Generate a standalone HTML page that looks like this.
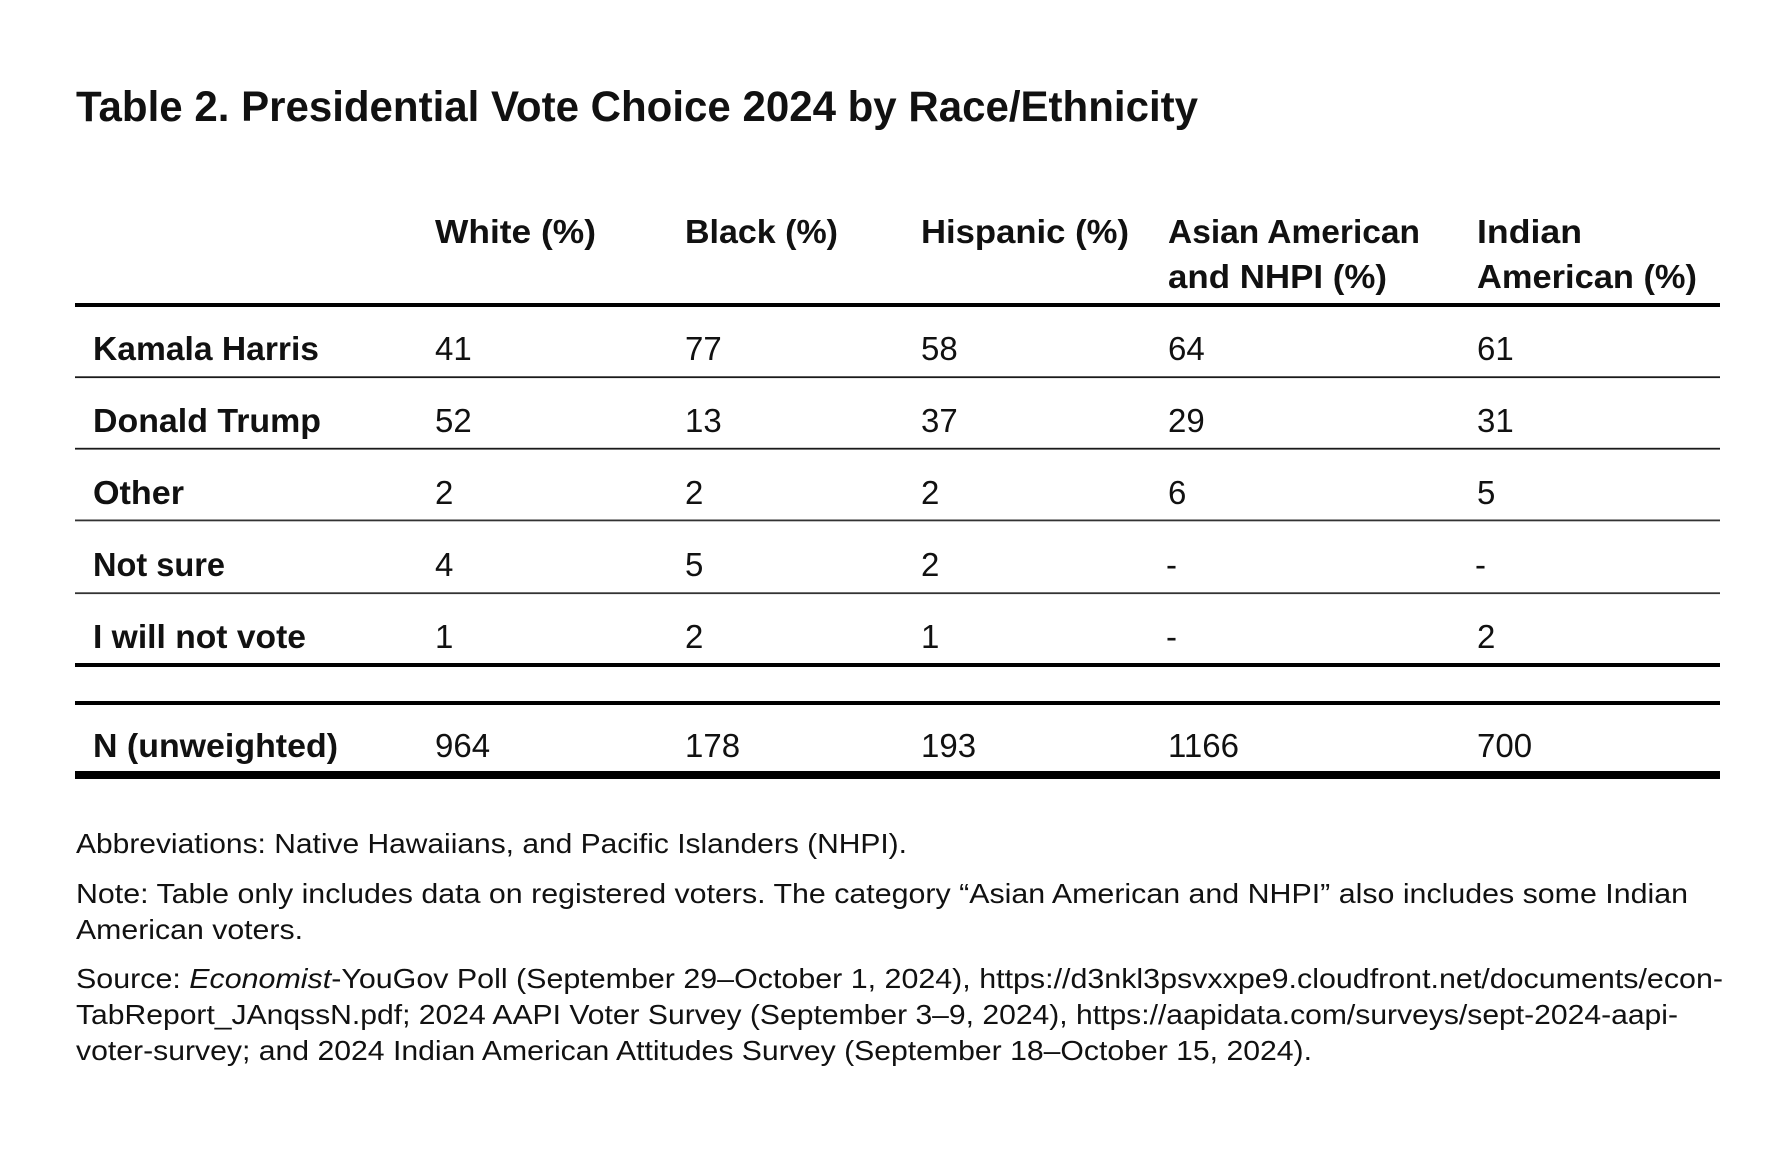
<!DOCTYPE html>
<html>
<head>
<meta charset="utf-8">
<style>
html,body{margin:0;padding:0;background:#fff;}
svg{display:block;}
text{font-family:"Liberation Sans",sans-serif;fill:#111;}
.b{font-weight:bold;}
.h{font-weight:bold;font-size:33px;}
.l{font-weight:bold;font-size:33px;}
.n{font-size:33px;}
.f{font-size:28px;}
</style>
</head>
<body>
<svg width="1771" height="1152" viewBox="0 0 1771 1152" xmlns="http://www.w3.org/2000/svg">
<rect x="0" y="0" width="1771" height="1152" fill="#fff"/>

<text class="b" x="76" y="121" font-size="43" textLength="1122" lengthAdjust="spacingAndGlyphs">Table 2. Presidential Vote Choice 2024 by Race/Ethnicity</text>

<!-- headers -->
<text class="h" x="435" y="243" textLength="161" lengthAdjust="spacingAndGlyphs">White (%)</text>
<text class="h" x="685" y="243" textLength="153" lengthAdjust="spacingAndGlyphs">Black (%)</text>
<text class="h" x="921" y="243" textLength="208" lengthAdjust="spacingAndGlyphs">Hispanic (%)</text>
<text class="h" x="1168" y="243" textLength="252" lengthAdjust="spacingAndGlyphs">Asian American</text>
<text class="h" x="1168" y="288" textLength="219" lengthAdjust="spacingAndGlyphs">and NHPI (%)</text>
<text class="h" x="1477" y="243" textLength="105" lengthAdjust="spacingAndGlyphs">Indian</text>
<text class="h" x="1477" y="288" textLength="220" lengthAdjust="spacingAndGlyphs">American (%)</text>

<!-- lines -->
<rect x="75" y="303" width="1645" height="4" fill="#000"/>
<rect x="75" y="376.3" width="1645" height="1.8" fill="#1a1a1a"/>
<rect x="75" y="447.8" width="1645" height="1.8" fill="#1a1a1a"/>
<rect x="75" y="519.5" width="1645" height="1.8" fill="#333"/>
<rect x="75" y="592.3" width="1645" height="1.8" fill="#333"/>
<rect x="75" y="663" width="1645" height="4" fill="#000"/>
<rect x="75" y="701" width="1645" height="4" fill="#000"/>
<rect x="75" y="771" width="1645" height="8" fill="#000"/>

<!-- row labels -->
<text class="l" x="93" y="360" textLength="226" lengthAdjust="spacingAndGlyphs">Kamala Harris</text>
<text class="l" x="93" y="432" textLength="228" lengthAdjust="spacingAndGlyphs">Donald Trump</text>
<text class="l" x="93" y="504" textLength="91" lengthAdjust="spacingAndGlyphs">Other</text>
<text class="l" x="93" y="576" textLength="132" lengthAdjust="spacingAndGlyphs">Not sure</text>
<text class="l" x="93" y="648" textLength="213" lengthAdjust="spacingAndGlyphs">I will not vote</text>
<text class="l" x="93" y="757" textLength="245" lengthAdjust="spacingAndGlyphs">N (unweighted)</text>

<!-- data -->
<g>
<text class="n" x="435" y="360">41</text>
<text class="n" x="685" y="360">77</text>
<text class="n" x="921" y="360">58</text>
<text class="n" x="1168" y="360">64</text>
<text class="n" x="1477" y="360">61</text>

<text class="n" x="435" y="432">52</text>
<text class="n" x="685" y="432">13</text>
<text class="n" x="921" y="432">37</text>
<text class="n" x="1168" y="432">29</text>
<text class="n" x="1477" y="432">31</text>

<text class="n" x="435" y="504">2</text>
<text class="n" x="685" y="504">2</text>
<text class="n" x="921" y="504">2</text>
<text class="n" x="1168" y="504">6</text>
<text class="n" x="1477" y="504">5</text>

<text class="n" x="435" y="576">4</text>
<text class="n" x="685" y="576">5</text>
<text class="n" x="921" y="576">2</text>
<text class="n" x="1166" y="576">-</text>
<text class="n" x="1475" y="576">-</text>

<text class="n" x="435" y="648">1</text>
<text class="n" x="685" y="648">2</text>
<text class="n" x="921" y="648">1</text>
<text class="n" x="1166" y="648">-</text>
<text class="n" x="1477" y="648">2</text>

<text class="n" x="435" y="757">964</text>
<text class="n" x="685" y="757">178</text>
<text class="n" x="921" y="757">193</text>
<text class="n" x="1168" y="757">1166</text>
<text class="n" x="1477" y="757">700</text>
</g>

<!-- footnotes -->
<text class="f" x="76" y="853" textLength="831" lengthAdjust="spacingAndGlyphs">Abbreviations: Native Hawaiians, and Pacific Islanders (NHPI).</text>
<text class="f" x="76" y="903" textLength="1612" lengthAdjust="spacingAndGlyphs">Note: Table only includes data on registered voters. The category “Asian American and NHPI” also includes some Indian</text>
<text class="f" x="76" y="939" textLength="227" lengthAdjust="spacingAndGlyphs">American voters.</text>
<text class="f" x="76" y="988" textLength="1647" lengthAdjust="spacingAndGlyphs">Source: <tspan font-style="italic">Economist</tspan>-YouGov Poll (September 29–October 1, 2024), https://d3nkl3psvxxpe9.cloudfront.net/documents/econ-</text>
<text class="f" x="76" y="1024" textLength="1602" lengthAdjust="spacingAndGlyphs">TabReport_JAnqssN.pdf; 2024 AAPI Voter Survey (September 3–9, 2024), https://aapidata.com/surveys/sept-2024-aapi-</text>
<text class="f" x="76" y="1060" textLength="1236" lengthAdjust="spacingAndGlyphs">voter-survey; and 2024 Indian American Attitudes Survey (September 18–October 15, 2024).</text>
</svg>
</body>
</html>
